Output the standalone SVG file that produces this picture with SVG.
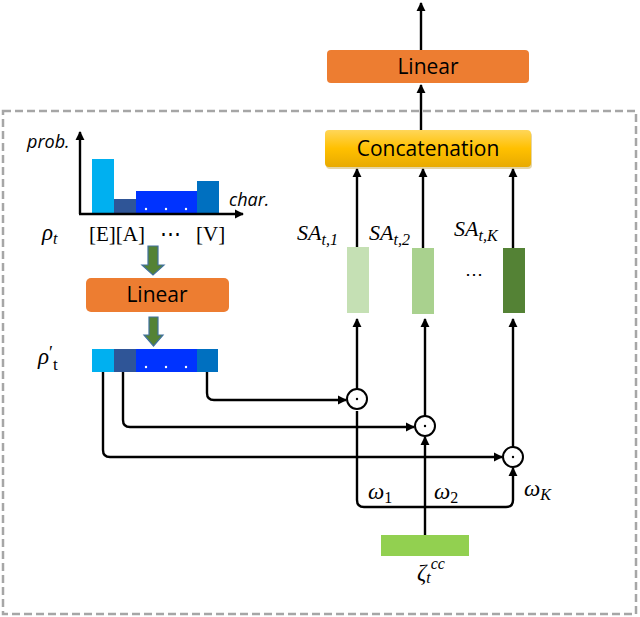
<svg xmlns="http://www.w3.org/2000/svg" width="640" height="617" viewBox="0 0 640 617">
<style>
.box{font-family:"Open Sans","Liberation Sans",sans-serif;font-size:21px;fill:#000;text-anchor:middle}
.m{font-family:"Liberation Serif","DejaVu Serif",serif;font-style:italic;fill:#000}
.r{font-family:"Liberation Serif","DejaVu Serif",serif;fill:#000}
.ax{font-family:"Open Sans","Liberation Sans",sans-serif;font-style:italic;font-size:18px;fill:#000}
.ln{fill:none;stroke:#000;stroke-width:2.4}
.garrow{fill:#548235;stroke:#41719C;stroke-width:1.2}
</style>
<defs>
<marker id="ah" viewBox="0 0 10 10" refX="9" refY="5" markerWidth="3.8" markerHeight="3.8" orient="auto" markerUnits="strokeWidth">
<path d="M0,0 L10,5 L0,10 z" fill="#000"/>
</marker>
<linearGradient id="yg" x1="0" y1="0" x2="0" y2="1">
<stop offset="0" stop-color="#FFD659"/>
<stop offset="0.5" stop-color="#FFC000"/>
<stop offset="1" stop-color="#E8AA00"/>
</linearGradient>
</defs>
<rect x="3" y="111" width="633" height="503" fill="none" stroke="#A6A6A6" stroke-width="2.5" stroke-dasharray="8,4"/>
<g id="connectors">
<line class="ln" x1="421" y1="50" x2="421" y2="3" marker-end="url(#ah)"/>
<line class="ln" x1="421" y1="130" x2="421" y2="85" marker-end="url(#ah)"/>
<line class="ln" x1="357" y1="247" x2="357" y2="169" marker-end="url(#ah)"/>
<line class="ln" x1="423" y1="248" x2="423" y2="169" marker-end="url(#ah)"/>
<line class="ln" x1="513" y1="248" x2="513" y2="169" marker-end="url(#ah)"/>
<line class="ln" x1="357" y1="389" x2="357" y2="319" marker-end="url(#ah)"/>
<line class="ln" x1="425" y1="416" x2="425" y2="319" marker-end="url(#ah)"/>
<line class="ln" x1="513" y1="447" x2="513" y2="319" marker-end="url(#ah)"/>
<path class="ln" d="M207,372 V393 Q207,400 214,400 H346" marker-end="url(#ah)"/>
<path class="ln" d="M123,372 V420 Q123,427 130,427 H414" marker-end="url(#ah)"/>
<path class="ln" d="M103,372 V450 Q103,457 110,457 H502" marker-end="url(#ah)"/>
<path class="ln" d="M357,411 V500 Q357,507 364,507 H506 Q513,507 513,500 V468" marker-end="url(#ah)"/>
<line class="ln" x1="425" y1="535" x2="425" y2="437" marker-end="url(#ah)"/>
<path class="garrow" d="M148,246 H158 V265 H164 L153,275 L142,265 H148 Z"/>
<path class="garrow" d="M149,317 H158 V335 H163 L153.5,346 L144,335 H149 Z"/>
</g>
<g id="linear-top">
<rect x="327" y="50" width="202" height="33" rx="4" fill="#ED7D31"/>
<text class="box" x="428" y="74">Linear</text>
</g>
<g id="concat">
<rect x="326" y="132" width="206" height="37" rx="4" fill="#B38600" opacity="0.35"/>
<rect x="325" y="130" width="206" height="37" rx="4" fill="url(#yg)"/>
<text class="box" x="428" y="156">Concatenation</text>
</g>
<g id="chart">
<rect x="92" y="159" width="22" height="55" fill="#00B0F0"/>
<rect x="114" y="199" width="22" height="15" fill="#2F5597"/>
<rect x="136" y="191" width="61" height="23" fill="#0033FF"/>
<rect x="197" y="181" width="22" height="33" fill="#0070C0"/>
<circle cx="146" cy="209" r="1.2" fill="#fff"/>
<circle cx="166" cy="209" r="1.2" fill="#fff"/>
<circle cx="186" cy="209" r="1.2" fill="#fff"/>
<line class="ln" x1="80" y1="214" x2="80" y2="132" marker-end="url(#ah)"/>
<line class="ln" x1="79" y1="214" x2="243" y2="214" marker-end="url(#ah)"/>
<text class="ax" x="27" y="148">prob.</text>
<text class="ax" x="229" y="206">char.</text>
<text class="m" x="42" y="240" font-size="23">ρ<tspan font-size="16" dy="4">t</tspan></text>
<text class="r" x="89" y="241" font-size="21">[E][A]</text>
<text class="r" x="160" y="241" font-size="21">⋯</text>
<text class="r" x="196" y="241" font-size="21">[V]</text>
</g>
<g id="linear-left">
<rect x="86" y="278" width="143" height="34" rx="5" fill="#ED7D31"/>
<text class="box" x="157" y="302">Linear</text>
</g>
<g id="rho-prime">
<rect x="92" y="349" width="22" height="23" fill="#00B0F0"/>
<rect x="114" y="349" width="22" height="23" fill="#2F5597"/>
<rect x="136" y="349" width="61" height="23" fill="#0033FF"/>
<rect x="197" y="349" width="21" height="23" fill="#0070C0"/>
<circle cx="146" cy="367" r="1.2" fill="#fff"/>
<circle cx="166" cy="367" r="1.2" fill="#fff"/>
<circle cx="186" cy="367" r="1.2" fill="#fff"/>
<text class="m" x="38" y="364" font-size="23">ρ<tspan class="r" font-style="normal" font-size="18" dy="-5">′</tspan><tspan class="r" font-style="normal" font-size="17" dy="11">t</tspan></text>
</g>
<g id="sa1">
<rect x="347" y="247" width="22" height="66" fill="#C5E0B4"/>
<text class="m" x="297" y="240" font-size="22">SA<tspan font-size="16" dy="5">t,1</tspan></text>
</g>
<g id="sa2">
<rect x="412" y="248" width="22" height="66" fill="#A9D18E"/>
<text class="m" x="369" y="240" font-size="22">SA<tspan font-size="16" dy="5">t,2</tspan></text>
</g>
<g id="saK">
<rect x="503" y="248" width="22" height="65" fill="#548235"/>
<text class="m" x="454" y="236" font-size="22">SA<tspan font-size="16" dy="5">t,K</tspan></text>
</g>
<text class="r" x="465" y="280" font-size="18">⋯</text>
<g id="odot1">
<circle cx="357" cy="399" r="10" fill="#fff" stroke="#000" stroke-width="2"/>
<circle cx="357" cy="399" r="1.2" fill="#000"/>
</g>
<g id="odot2">
<circle cx="425" cy="426" r="10" fill="#fff" stroke="#000" stroke-width="2"/>
<circle cx="425" cy="426" r="1.2" fill="#000"/>
</g>
<g id="odotK">
<circle cx="513" cy="457" r="10" fill="#fff" stroke="#000" stroke-width="2"/>
<circle cx="513" cy="457" r="1.2" fill="#000"/>
</g>
<text class="m" x="368" y="499" font-size="23">ω<tspan class="r" font-style="normal" font-size="16" dy="4">1</tspan></text>
<text class="m" x="434" y="499" font-size="23">ω<tspan class="r" font-style="normal" font-size="16" dy="4">2</tspan></text>
<text class="m" x="524" y="496" font-size="23">ω<tspan font-size="16" dy="4">K</tspan></text>
<g id="zeta">
<rect x="381" y="535" width="88" height="21" fill="#92D050"/>
<text class="m" x="417" y="580" font-size="23">ζ<tspan font-size="16" dy="3">t</tspan><tspan font-size="16" dy="-14">cc</tspan></text>
</g>
</svg>
